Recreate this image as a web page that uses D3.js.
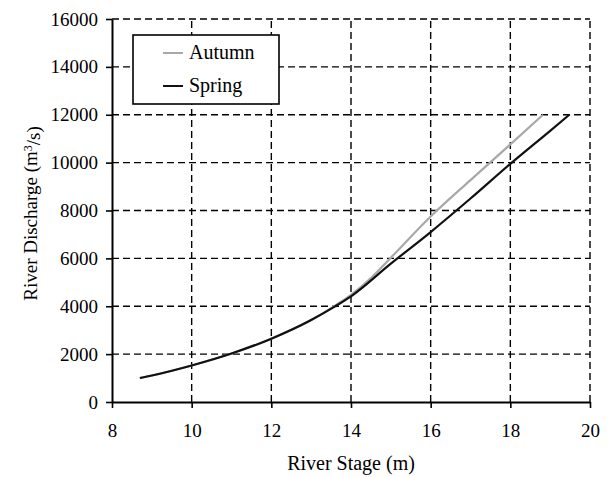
<!DOCTYPE html>
<html>
<head>
    <meta charset="utf-8">
    <title>River Stage vs Discharge</title>
    <script src="https://d3js.org/d3.v7.min.js"></script>
    <style>
        body {
            margin: 0;
            background: #fff;
        }
        svg text {
            font-family: "Liberation Serif", "Times New Roman", serif;
            fill: #000;
        }
    </style>
</head>
<body>
    <div id="chart"></div>
    <script>
        // Rating curves
        const autumnStage = [8.7, 9, 10, 11, 12, 13, 13.5, 14, 14.5, 15, 16, 17, 18, 18.82];
        const autumnFlow = [1000, 1105, 1525, 2025, 2645, 3425, 3920, 4470, 5180, 6030, 7750, 9270, 10760, 12000];
        const springStage = [8.7, 9, 10, 11, 12, 13, 13.6, 14, 15, 16, 17, 18, 19, 19.48];
        const springFlow = [1000, 1105, 1525, 2025, 2645, 3425, 3995, 4415, 5780, 7100, 8500, 9950, 11330, 12000];

        const xTicks = [8, 10, 12, 14, 16, 18, 20];
        const yTicks = [0, 2000, 4000, 6000, 8000, 10000, 12000, 14000, 16000];

        const width = 612, height = 477;
        const margin = {top: 19, right: 22, bottom: 75, left: 112};
        const fontSize = 19;

        const svg = d3.select('#chart')
            .append('svg')
            .attr('width', width)
            .attr('height', height);

        const x = d3.scaleLinear().domain([8, 20]).range([margin.left, width - margin.right]);
        const y = d3.scaleLinear().domain([0, 16000]).range([height - margin.bottom, margin.top]);

        // dashed grid
        const grid = svg.append('g')
            .attr('stroke', '#000')
            .attr('stroke-width', 1.4)
            .attr('stroke-dasharray', '7,4');

        grid.selectAll('line.v')
            .data(xTicks.slice(1))
            .join('line')
            .attr('class', 'v')
            .attr('x1', d => x(d)).attr('x2', d => x(d))
            .attr('y1', y(0)).attr('y2', y(16000));

        grid.selectAll('line.h')
            .data(yTicks.slice(1))
            .join('line')
            .attr('class', 'h')
            .attr('x1', x(8)).attr('x2', x(20))
            .attr('y1', d => y(d)).attr('y2', d => y(d));

        // axes
        const xAxis = svg.append('g')
            .attr('transform', `translate(0,${y(0)})`)
            .call(d3.axisBottom(x).tickValues(xTicks).tickSize(6).tickPadding(16).tickSizeOuter(0));

        const yAxis = svg.append('g')
            .attr('transform', `translate(${x(8)},0)`)
            .call(d3.axisLeft(y).tickValues(yTicks).tickFormat(d3.format('d')).tickSize(6).tickPadding(8).tickSizeOuter(0));

        [xAxis, yAxis].forEach(a => {
            a.select('.domain').attr('stroke', '#000').attr('stroke-width', 2);
            a.selectAll('.tick line').attr('stroke', '#000').attr('stroke-width', 1.6);
            a.selectAll('.tick text')
                .style('font-family', '"Liberation Serif", "Times New Roman", serif')
                .style('font-size', fontSize + 'px')
                .attr('fill', '#000');
        });

        // curves
        const line = d3.line()
            .x(d => x(d[0]))
            .y(d => y(d[1]))
            .curve(d3.curveMonotoneX);

        const autumn = autumnStage.map((s, i) => [s, autumnFlow[i]]);
        const spring = springStage.map((s, i) => [s, springFlow[i]]);

        svg.append('path')
            .datum(autumn)
            .attr('fill', 'none')
            .attr('stroke', '#a8a8a8')
            .attr('stroke-width', 2.2)
            .attr('d', line);

        svg.append('path')
            .datum(spring)
            .attr('fill', 'none')
            .attr('stroke', '#111')
            .attr('stroke-width', 2.2)
            .attr('d', line);

        // legend
        const legend = svg.append('g').attr('transform', 'translate(133,35)');
        legend.append('rect')
            .attr('width', 146)
            .attr('height', 69)
            .attr('fill', '#fff')
            .attr('stroke', '#000')
            .attr('stroke-width', 1.6);

        const items = [
            {name: 'Autumn', color: '#a8a8a8'},
            {name: 'Spring', color: '#111'}
        ];
        const li = legend.selectAll('g.item')
            .data(items)
            .join('g')
            .attr('class', 'item')
            .attr('transform', (d, i) => `translate(0,${18 + i * 33})`);
        li.append('line')
            .attr('x1', 30).attr('x2', 50)
            .attr('stroke', d => d.color)
            .attr('stroke-width', 2);
        li.append('text')
            .attr('x', 56)
            .attr('dy', '0.32em')
            .style('font-size', '20px')
            .text(d => d.name);

        // axis titles
        svg.append('text')
            .attr('x', (x(8) + x(20)) / 2)
            .attr('y', 470)
            .attr('text-anchor', 'middle')
            .style('font-size', '20px')
            .text('River Stage (m)');

        const yt = svg.append('text')
            .attr('transform', `translate(37,${(y(0) + y(16000)) / 2 + 3}) rotate(-90)`)
            .attr('text-anchor', 'middle')
            .style('font-size', fontSize + 'px');
        yt.append('tspan').text('River Discharge (m');
        yt.append('tspan').attr('dy', '-0.45em').style('font-size', '12px').text('3');
        yt.append('tspan').attr('dy', '0.45em').text('/s)');
    </script>
</body>
</html>
